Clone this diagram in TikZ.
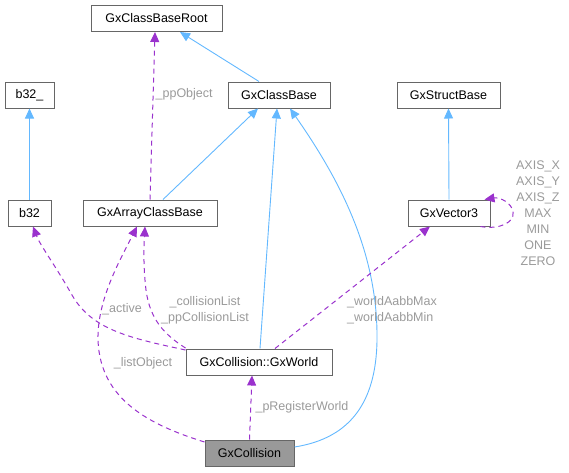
\documentclass[tikz,border=0pt]{standalone}
\usepackage{fontspec}
\setmainfont{Liberation Sans}
\usetikzlibrary{arrows.meta}
\definecolor{boxline}{HTML}{666666}
\definecolor{inhblue}{HTML}{63B8FF}
\definecolor{usepurple}{HTML}{9A32CD}
\definecolor{lblgrey}{HTML}{9A9A9A}
\definecolor{collfill}{HTML}{999999}
\tikzset{
  cls/.style={draw=boxline, line width=1pt, fill=white, minimum height=26pt, inner sep=0pt, font=\fontsize{12.5}{15}\selectfont},
  inh/.style={draw=inhblue, line width=0.9pt, -{Triangle[length=10pt,width=9pt,fill=inhblue]}},
  usage/.style={draw=usepurple, line width=1pt, dash pattern=on 5pt off 4pt, -{Triangle[length=10pt,width=9pt,fill=usepurple]}},
  lbl/.style={text=lblgrey, inner sep=0pt, align=center, font=\fontsize{12.5}{16}\selectfont},
}
\begin{document}
\begin{tikzpicture}[x=1pt,y=-1pt]
\useasboundingbox (0,0) rectangle (569,472);
% nodes
\node[cls, minimum width=131pt] (root) at (156.5,18.5) {GxClassBaseRoot};
\node[cls, minimum width=102pt] (cb) at (279,95) {GxClassBase};
\node[cls, minimum width=49pt] (b32u) at (29.5,95) {b32\_};
\node[cls, minimum width=103pt] (sb) at (448.5,95) {GxStructBase};
\node[cls, minimum width=43pt] (b32) at (29.5,213) {b32};
\node[cls, minimum width=134pt] (arr) at (150,213) {GxArrayClassBase};
\node[cls, minimum width=82pt] (v3) at (449,213) {GxVector3};
\node[cls, minimum width=146pt] (world) at (259,362) {GxCollision::GxWorld};
\node[cls, minimum width=89pt, fill=collfill] (coll) at (249.5,453) {GxCollision};
% inheritance
\draw[inh] ([xshift=-20pt]cb.north) -- ([xshift=23.5pt]root.south);
\draw[inh] ([xshift=13pt]arr.north) -- ([xshift=-21pt]cb.south);
\draw[inh] ([xshift=1pt]world.north) -- ([xshift=-2pt]cb.south);
\draw[inh] ([yshift=6pt]coll.east) .. controls (352,438) and (378,400) .. (377,333)
   .. controls (376,250) and (340,180) .. ([xshift=11pt]cb.south);
\draw[inh] (b32.north) -- (b32u.south);
\draw[inh] (v3.north) -- (sb.south);
% usage
\draw[usage] (arr.north) -- node[lbl, anchor=west, xshift=2pt, pos=0.63] (l1) {\_ppObject} ([xshift=-1.5pt]root.south);
\draw[usage] ([xshift=16pt]world.north) -- ([xshift=-19pt]v3.south);
\draw[usage] ([yshift=12pt]world.west) .. controls (130,338) and (92,330) .. (72,295)
   .. controls (55,265) and (40,245) .. ([xshift=3.5pt]b32.south);
\draw[usage] ([yshift=14pt]world.west) .. controls (165,335) and (150,320) .. (146,290)
   .. controls (143,265) and (144,245) .. ([xshift=-5pt]arr.south);
\draw[usage] ([yshift=11pt]coll.west) .. controls (150,425) and (100,400) .. (98,340)
   .. controls (97,300) and (120,260) .. ([xshift=-13pt]arr.south);
\draw[usage] (coll.north) -- ([xshift=-7pt]world.south);
\draw[usage] ([xshift=-10pt]v3.south east) .. controls (500,230) and (515,222) .. (513,212)
   .. controls (512,203) and (500,197) .. ([xshift=-6pt]v3.north east);
% labels
\node[lbl] (l2) at (122,309) {\_active};
\node[lbl] (l3) at (205,310) {\_collisionList\\\_ppCollisionList};
\node[lbl] (l4) at (143,363) {\_listObject};
\node[lbl] (l5) at (302,407) {\_pRegisterWorld};
\node[lbl, anchor=west, align=left] (l6) at (347,310) {\_worldAabbMax\\\_worldAabbMin};
\node[lbl] (l7) at (538,213) {AXIS\_X\\AXIS\_Y\\AXIS\_Z\\MAX\\MIN\\ONE\\ZERO};
\end{tikzpicture}
\end{document}
